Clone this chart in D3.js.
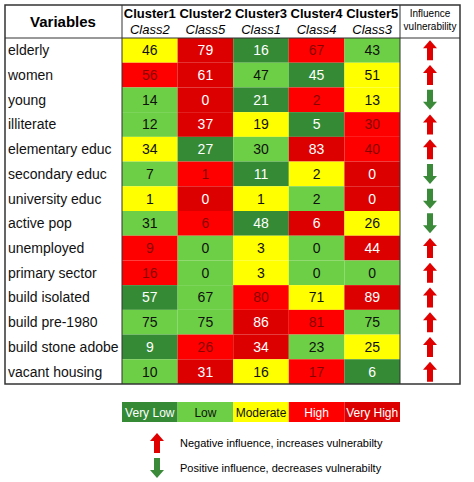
<!DOCTYPE html>
<html>
<head>
<meta charset="utf-8">
<style>
  body { margin: 0; background: #fff; font-family: "Liberation Sans", Arial, sans-serif; }
</style>
</head>
<body>
<svg id="chart" width="474" height="482"></svg>
<script src="https://cdn.jsdelivr.net/npm/d3@7"></script>
<script>
var variables = ['elderly','women','young','illiterate','elementary educ','secondary educ',
  'university educ','active pop','unemployed','primary sector','build isolated',
  'build pre-1980','build stone adobe','vacant housing'];
var clusters = ['Cluster1','Cluster2','Cluster3','Cluster4','Cluster5'];
var classes = ['Class2','Class5','Class1','Class4','Class3'];
var values = [
  [46,79,16,67,43],[56,61,47,45,51],[14,0,21,2,13],[12,37,19,5,30],
  [34,27,30,83,40],[7,1,11,2,0],[1,0,1,2,0],[31,6,48,6,26],
  [9,0,3,0,44],[16,0,3,0,0],[57,67,80,71,89],[75,75,86,81,75],
  [9,26,34,23,25],[10,31,16,17,6]
];
// 0 very low .. 4 very high
var levels = [
  [2,4,0,3,1],[3,4,1,0,2],[1,4,0,3,2],[1,4,2,0,3],
  [2,0,1,4,3],[1,3,0,2,4],[2,4,2,1,4],[1,3,0,4,2],
  [3,1,2,1,4],[3,1,2,1,1],[0,1,3,2,4],[1,1,4,3,1],
  [0,3,4,1,2],[1,4,2,3,0]
];
var influence = [1,1,-1,1,1,-1,-1,-1,1,1,1,1,1,1];
var levelNames = ['Very Low','Low','Moderate','High','Very High'];

var fill = ['#358a35','#6ccf45','#ffff00','#ff0000','#dd0000'];
var ink = ['#ffffff','#111111','#111111','#8a0000','#ffffff'];

var svg = d3.select('#chart');
var xL = 5, xR = 460, yT = 5, headH = 33, yB = 384;
var x = d3.scaleBand().domain(d3.range(5)).range([122, 400]);
var y = d3.scaleBand().domain(d3.range(variables.length)).range([yT + headH, yB]);

// cells
var rows = svg.selectAll('g.row').data(values).enter().append('g').attr('class', 'row')
  .attr('transform', function (d, i) { return 'translate(0,' + y(i) + ')'; });
rows.each(function (row, i) {
  var g = d3.select(this);
  g.selectAll('rect').data(row).enter().append('rect')
    .attr('x', function (d, j) { return x(j); }).attr('width', x.bandwidth())
    .attr('height', y.bandwidth())
    .attr('fill', function (d, j) { return fill[levels[i][j]]; });
  g.selectAll('text.v').data(row).enter().append('text').attr('class', 'v')
    .attr('x', function (d, j) { return x(j) + x.bandwidth() / 2; })
    .attr('y', y.bandwidth() / 2 + 5).attr('text-anchor', 'middle')
    .attr('font-size', 14)
    .attr('fill', function (d, j) { return ink[levels[i][j]]; })
    .text(function (d) { return d; });
  g.append('text').attr('x', xL + 3).attr('y', y.bandwidth() / 2 + 5)
    .attr('font-size', 14).attr('fill', '#111').text(variables[i]);
});

function arrow(g, cx, cy, dir) {
  var c = dir > 0 ? '#e00000' : '#3a8a3a';
  var p = dir > 0
    ? [[0,-10],[7,-2],[3,-2],[3,10],[-3,10],[-3,-2],[-7,-2]]
    : [[0,10],[7,2],[3,2],[3,-10],[-3,-10],[-3,2],[-7,2]];
  g.append('path').attr('d', d3.line()(p.map(function (q) { return [cx + q[0], cy + q[1]]; })) + 'Z')
    .attr('fill', c);
}
influence.forEach(function (d, i) { arrow(svg, 430, y(i) + y.bandwidth() / 2, d); });

// header
svg.append('text').attr('x', 63).attr('y', 27).attr('text-anchor', 'middle')
  .attr('font-size', 15).attr('font-weight', 'bold').text('Variables');
clusters.forEach(function (c, j) {
  svg.append('text').attr('x', x(j) + x.bandwidth() / 2).attr('y', 18).attr('text-anchor', 'middle')
    .attr('font-size', 13).attr('font-weight', 'bold').text(c);
  svg.append('text').attr('x', x(j) + x.bandwidth() / 2).attr('y', 34).attr('text-anchor', 'middle')
    .attr('font-size', 13).attr('font-style', 'italic').text(classes[j]);
});
svg.append('text').attr('x', 430).attr('y', 17).attr('text-anchor', 'middle').attr('font-size', 10).text('Influence');
svg.append('text').attr('x', 430).attr('y', 30).attr('text-anchor', 'middle').attr('font-size', 10).text('vulnerability');

// lines
svg.append('rect').attr('x', xL).attr('y', yT).attr('width', xR - xL).attr('height', yB - yT)
  .attr('fill', 'none').attr('stroke', '#333').attr('stroke-width', 1.5);
[122, 400].forEach(function (lx) {
  svg.append('line').attr('x1', lx).attr('x2', lx).attr('y1', yT).attr('y2', yB).attr('stroke', '#333');
});
svg.append('line').attr('x1', xL).attr('x2', xR).attr('y1', yT + headH).attr('y2', yT + headH).attr('stroke', '#333');

// legend
var lx = d3.scaleBand().domain(d3.range(5)).range([122, 400]);
var lg = svg.append('g').attr('transform', 'translate(0,402)');
lg.selectAll('rect').data(levelNames).enter().append('rect')
  .attr('x', function (d, i) { return lx(i); }).attr('width', lx.bandwidth()).attr('height', 20)
  .attr('fill', function (d, i) { return fill[i]; });
lg.selectAll('text').data(levelNames).enter().append('text')
  .attr('x', function (d, i) { return lx(i) + lx.bandwidth() / 2; }).attr('y', 15)
  .attr('text-anchor', 'middle').attr('font-size', 12)
  .attr('fill', function (d, i) { return i === 0 || i >= 3 ? '#fff' : '#111'; })
  .text(function (d) { return d; });

arrow(svg, 157, 443, 1);
arrow(svg, 157, 468, -1);
svg.append('text').attr('x', 180).attr('y', 447).attr('font-size', 11).text('Negative influence, increases vulnerabilty');
svg.append('text').attr('x', 180).attr('y', 472).attr('font-size', 11).text('Positive influence, decreases vulnerabilty');
</script>
</body>
</html>
